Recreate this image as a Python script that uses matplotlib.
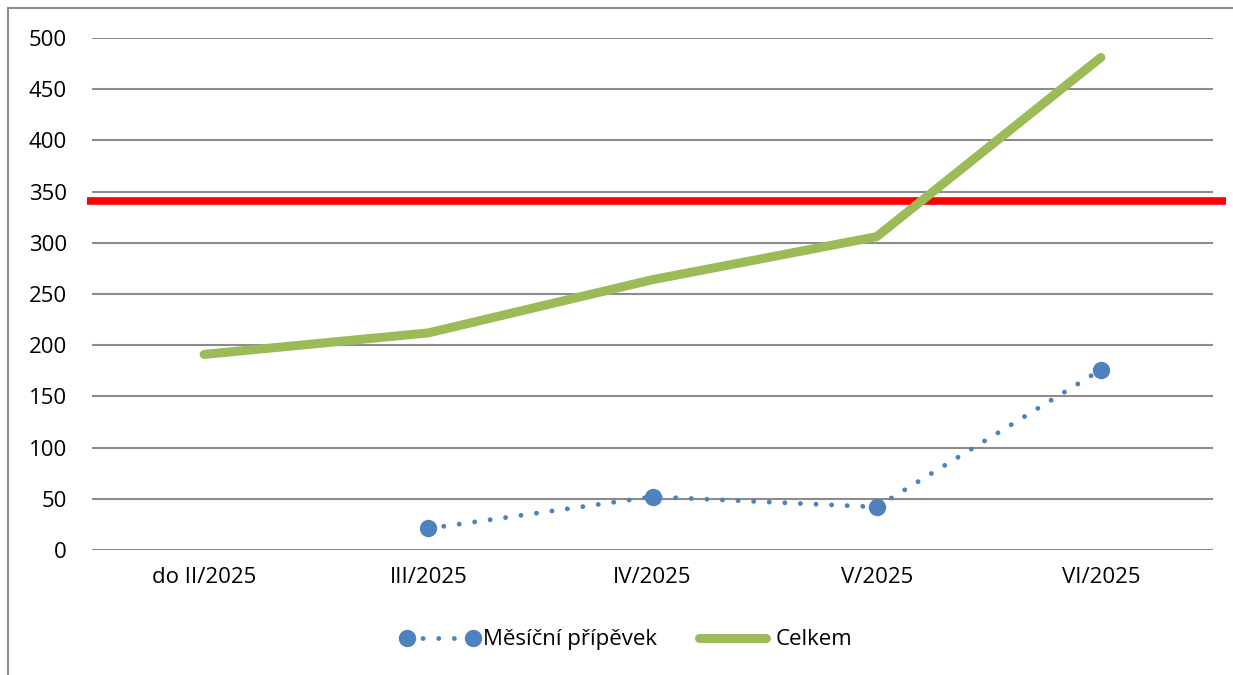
import matplotlib.pyplot as plt
from matplotlib.lines import Line2D
import numpy as np

plt.rcParams['font.family'] = ['Open Sans', 'DejaVu Sans']

categories = ["do II/2025", "III/2025", "IV/2025", "V/2025", "VI/2025"]
mesicni = [np.nan, 21, 52, 42, 176]
celkem = [191, 212, 264, 306, 481]
limit = 341

fig = plt.figure(figsize=(12.33, 6.75), dpi=100)
ax = fig.add_axes([0.0746, 0.1852, 0.9092, 0.7585])

x = np.arange(len(categories))

ax.set_xlim(-0.5, 4.5)
ax.set_ylim(0, 500)
ax.set_yticks(range(0, 501, 50))
ax.yaxis.grid(True, color='#8c8c8c', linewidth=1.5)
ax.set_axisbelow(True)
for s in ax.spines.values():
    s.set_visible(False)
ax.tick_params(axis='both', length=0, labelsize=16, colors='black')
ax.tick_params(axis='y', pad=18)
ax.tick_params(axis='x', pad=12)
ax.set_xticks(x)
ax.set_xticklabels(categories)

# red limit line, sticks out of the plot area a bit
ax.plot([-0.52, 4.56], [limit, limit], color='#ff0000', linewidth=5.5,
        solid_capstyle='butt', clip_on=False, zorder=3)

ax.plot(x, celkem, color='#9bbb59', linewidth=6.5, solid_capstyle='round',
        solid_joinstyle='round', zorder=4, label='Celkem')
ax.plot(x, mesicni, color='#4f81bd', linewidth=3.5, linestyle=(0, (0.01, 3.2)),
        dash_capstyle='round', marker='o', markersize=11.5, zorder=5,
        label='Měsíční příspěvek')

h1 = Line2D([], [], color='#4f81bd', linewidth=3.5, linestyle=(0, (0.01, 3.2)),
            dash_capstyle='round', marker='o', markersize=11.5)
h2 = Line2D([], [], color='#9bbb59', linewidth=6.5, solid_capstyle='round')
fig.legend([h1, h2], ['Měsíční přípěvek', 'Celkem'], loc='center',
           bbox_to_anchor=(0.508, 0.052), ncol=2, frameon=False, fontsize=16,
           numpoints=2, handlelength=3.6, handletextpad=0.15, columnspacing=1.6)

# outer chart border (left and top only visible)
fig.add_artist(Line2D([0.0065, 0.0065], [0, 0.988], color='#8c8c8c', linewidth=1.5))
fig.add_artist(Line2D([0.0065, 1], [0.988, 0.988], color='#8c8c8c', linewidth=1.5))

fig.savefig('out.png', dpi=100)
